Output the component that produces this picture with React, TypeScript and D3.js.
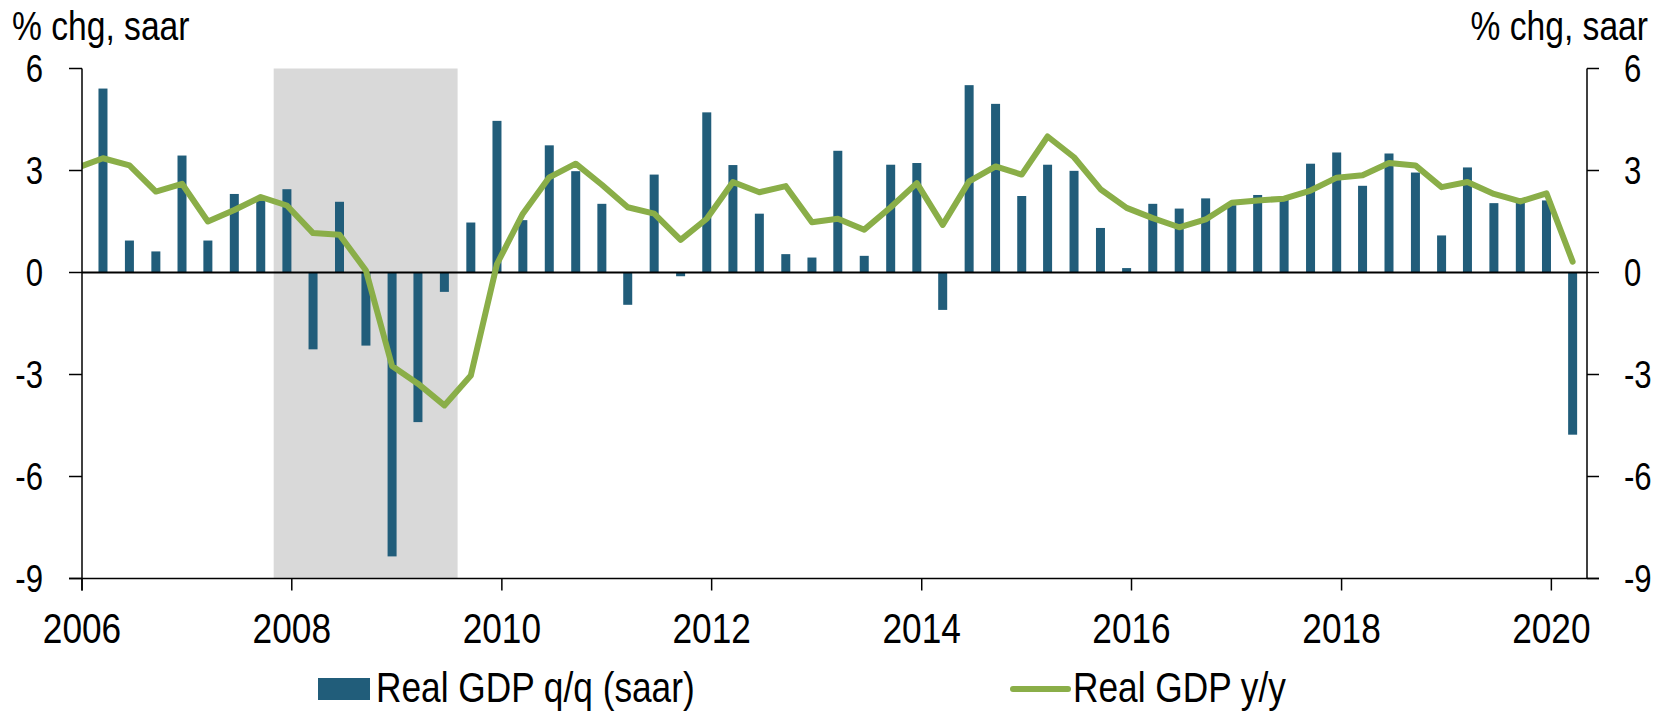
import React from "react";
import * as d3 from "d3";

// DATA
const quarters = [
  "2006Q1", "2006Q2", "2006Q3", "2006Q4",
  "2007Q1", "2007Q2", "2007Q3", "2007Q4",
  "2008Q1", "2008Q2", "2008Q3", "2008Q4",
  "2009Q1", "2009Q2", "2009Q3", "2009Q4",
  "2010Q1", "2010Q2", "2010Q3", "2010Q4",
  "2011Q1", "2011Q2", "2011Q3", "2011Q4",
  "2012Q1", "2012Q2", "2012Q3", "2012Q4",
  "2013Q1", "2013Q2", "2013Q3", "2013Q4",
  "2014Q1", "2014Q2", "2014Q3", "2014Q4",
  "2015Q1", "2015Q2", "2015Q3", "2015Q4",
  "2016Q1", "2016Q2", "2016Q3", "2016Q4",
  "2017Q1", "2017Q2", "2017Q3", "2017Q4",
  "2018Q1", "2018Q2", "2018Q3", "2018Q4",
  "2019Q1", "2019Q2", "2019Q3", "2019Q4",
  "2020Q1",
];

// Real GDP q/q (saar), 2006Q1 - 2020Q1
const gdpQoQ = [
  5.41, 0.94, 0.62, 3.44,
  0.94, 2.31, 2.16, 2.45,
  -2.26, 2.08, -2.15, -8.35,
  -4.4, -0.57, 1.47, 4.46,
  1.54, 3.74, 2.98, 2.02,
  -0.95, 2.88, -0.11, 4.71,
  3.16, 1.73, 0.54, 0.44,
  3.58, 0.49, 3.17, 3.22,
  -1.1, 5.51, 4.96, 2.25,
  3.17, 2.99, 1.31, 0.13,
  2.02, 1.88, 2.18, 1.98,
  2.28, 2.14, 3.2, 3.53,
  2.55, 3.5, 2.94, 1.09,
  3.09, 2.04, 2.06, 2.12,
  -4.77,
];

// Real GDP y/y, starts one quarter earlier (2005Q4) so the line runs in from the axis
const yoyQuarters = ["2005Q4", ...quarters];
const gdpYoY = [
  3.08,
  3.36, 3.15, 2.38, 2.61,
  1.5, 1.84, 2.22, 1.97,
  1.16, 1.11, 0.06, -2.75,
  -3.27, -3.91, -3.03, 0.25,
  1.73, 2.8, 3.2, 2.58,
  1.92, 1.73, 0.96, 1.58,
  2.66, 2.36, 2.54, 1.48,
  1.58, 1.26, 1.92, 2.63,
  1.4, 2.68, 3.12, 2.88,
  4.0, 3.39, 2.45, 1.9,
  1.6, 1.33, 1.56, 2.05,
  2.12, 2.17, 2.41, 2.79,
  2.86, 3.22, 3.15, 2.51,
  2.66, 2.31, 2.09, 2.33,
  0.32,
];

const recession = ["2007Q4", "2009Q2"];
const yTicks = [6, 3, 0, -3, -6, -9];
const xTickYears = [2006, 2008, 2010, 2012, 2014, 2016, 2018, 2020];
const axisTitle = "% chg, saar";
const legendLabels = ["Real GDP q/q (saar)", "Real GDP y/y"];

// STYLE
const BAR_COLOR = "#215d7a";
const LINE_COLOR = "#8aae48";
const SHADE_COLOR = "#d9d9d9";
const FONT = "'Liberation Sans', Arial, sans-serif";
const NARROW = 0.82; // squeeze to mimic Arial Narrow

const quarterDate = (label: string) => {
  const year = +label.slice(0, 4);
  const q = +label.slice(5);
  return new Date(year, q * 3 - 1, 15);
};

// text squeezed horizontally around its anchor point
const NarrowText = ({
  x,
  y,
  size,
  anchor = "start",
  dy,
  children,
}: {
  x: number;
  y: number;
  size: number;
  anchor?: string;
  dy?: string;
  children: React.ReactNode;
}) => (
  <g transform={`translate(${x},${y}) scale(${NARROW},1)`}>
    <text x={0} y={0} dy={dy} fontSize={size} textAnchor={anchor} fill="#000">
      {children}
    </text>
  </g>
);

export default function App() {
  const width = 1671;
  const height = 714;
  const plot = { left: 82, right: 1587, top: 68.5, bottom: 578.5 };

  const x = d3
    .scaleTime()
    .domain([new Date(2006, 0, 1), new Date(2020, 4, 4)])
    .range([plot.left, plot.right]);

  const y = d3.scaleLinear().domain([-9, 6]).range([plot.bottom, plot.top]);

  const half = (x(quarterDate("2006Q2")) - x(quarterDate("2006Q1"))) / 2;
  const barW = 9;

  const line = d3
    .line<number>()
    .x((_, i) => x(quarterDate(yoyQuarters[i])))
    .y((d) => y(d));

  const shadeX0 = x(quarterDate(recession[0])) - half;
  const shadeX1 = x(quarterDate(recession[1])) + half;

  return (
    <svg
      width={width}
      height={height}
      style={{ position: "absolute", left: 0, top: 0, background: "#fff" }}
      fontFamily={FONT}
    >
      <defs>
        <clipPath id="plot-clip">
          <rect
            x={plot.left}
            y={plot.top}
            width={plot.right - plot.left}
            height={plot.bottom - plot.top}
          />
        </clipPath>
      </defs>

      {/* RECESSION SHADING */}
      <rect
        x={shadeX0}
        y={y(6)}
        width={shadeX1 - shadeX0}
        height={y(-9) - y(6)}
        fill={SHADE_COLOR}
      />

      {/* BARS */}
      {gdpQoQ.map((v, i) => {
        const cx = x(quarterDate(quarters[i]));
        return (
          <rect
            key={quarters[i]}
            x={cx - barW / 2}
            y={Math.min(y(v), y(0))}
            width={barW}
            height={Math.abs(y(v) - y(0))}
            fill={BAR_COLOR}
          />
        );
      })}

      {/* ZERO LINE */}
      <line x1={plot.left} x2={plot.right} y1={y(0)} y2={y(0)} stroke="#000" strokeWidth={1.8} />

      {/* Y/Y LINE */}
      <path
        d={line(gdpYoY) || ""}
        fill="none"
        stroke={LINE_COLOR}
        strokeWidth={6}
        strokeLinejoin="round"
        strokeLinecap="round"
        clipPath="url(#plot-clip)"
      />

      {/* AXES */}
      <g stroke="#000" strokeWidth={1.5}>
        <line x1={plot.left} x2={plot.left} y1={plot.top} y2={plot.bottom + 12} />
        <line x1={plot.right} x2={plot.right} y1={plot.top} y2={plot.bottom} />
        <line x1={plot.left - 13} x2={plot.right + 12} y1={plot.bottom} y2={plot.bottom} />
        {yTicks.map((t) => (
          <g key={t}>
            <line x1={plot.left - 13} x2={plot.left} y1={y(t)} y2={y(t)} />
            <line x1={plot.right} x2={plot.right + 12} y1={y(t)} y2={y(t)} />
          </g>
        ))}
        {xTickYears.map((yr) => (
          <line
            key={yr}
            x1={x(new Date(yr, 0, 1))}
            x2={x(new Date(yr, 0, 1))}
            y1={plot.bottom}
            y2={plot.bottom + 12}
          />
        ))}
      </g>

      {/* TICK LABELS */}
      {yTicks.map((t) => (
        <g key={t}>
          <NarrowText x={43} y={y(t)} dy="0.36em" size={38} anchor="end">
            {t}
          </NarrowText>
          <NarrowText x={1624} y={y(t)} dy="0.36em" size={38}>
            {t}
          </NarrowText>
        </g>
      ))}
      {xTickYears.map((yr) => (
        <NarrowText key={yr} x={x(new Date(yr, 0, 1))} y={643} size={43} anchor="middle">
          {yr}
        </NarrowText>
      ))}

      {/* AXIS TITLES */}
      <NarrowText x={12} y={40} size={41}>
        {axisTitle}
      </NarrowText>
      <NarrowText x={1648} y={40} size={41} anchor="end">
        {axisTitle}
      </NarrowText>

      {/* LEGEND */}
      <rect x={318} y={678} width={52} height={22} fill={BAR_COLOR} />
      <NarrowText x={376} y={702} size={43}>
        {legendLabels[0]}
      </NarrowText>
      <line
        x1={1013}
        x2={1068}
        y1={689}
        y2={689}
        stroke={LINE_COLOR}
        strokeWidth={6}
        strokeLinecap="round"
      />
      <NarrowText x={1073} y={702} size={43}>
        {legendLabels[1]}
      </NarrowText>
    </svg>
  );
}
